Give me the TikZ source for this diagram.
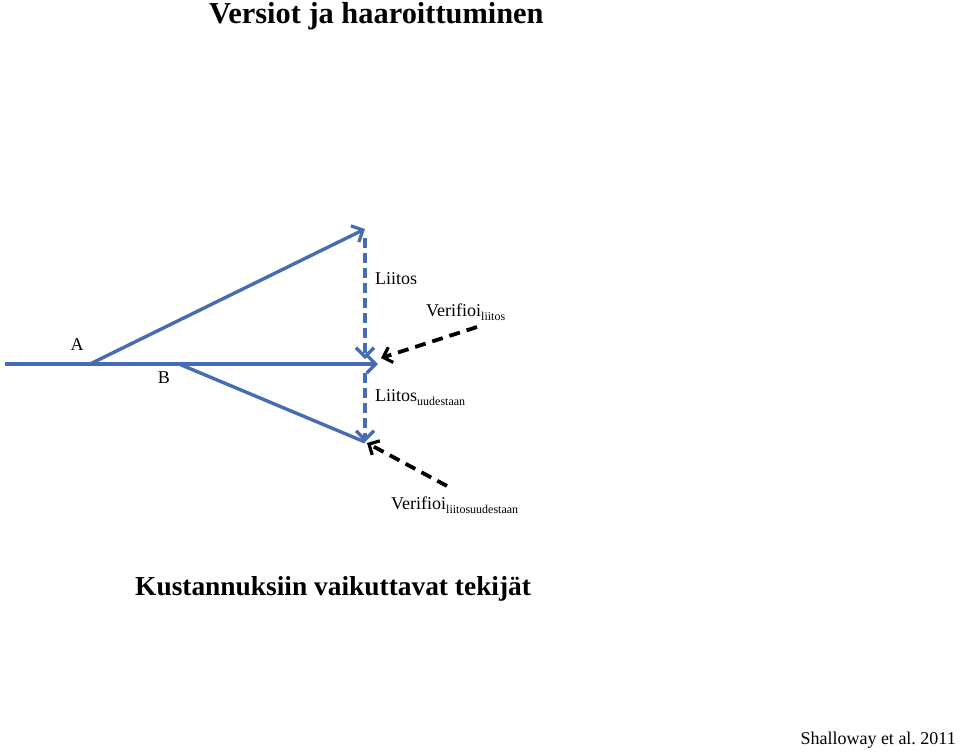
\documentclass[tikz,border=0pt]{standalone}
\usepackage{fontspec}
\setmainfont{Liberation Serif}
\usetikzlibrary{arrows.meta}
\definecolor{lineblue}{RGB}{70,108,180}
\tikzset{
  bluearrow/.style={draw=lineblue, line width=3.4pt, -{Straight Barb[length=9pt,width=18pt,line width=3.2pt]}},
  blueline/.style={draw=lineblue, line width=3.4pt},
  bluedash/.style={bluearrow, dash pattern=on 10pt off 5pt},
  blackdash/.style={draw=black, line width=3.8pt, dash pattern=on 11pt off 7pt, -{Straight Barb[length=8pt,width=16pt,line width=3.2pt]}},
  lbl/.style={inner sep=0pt, anchor=base west, font=\fontsize{18}{20}\selectfont},
  ttl/.style={inner sep=0pt, anchor=base west, font=\fontsize{30.4}{32}\selectfont\bfseries},
}
\newcommand{\subtxt}[1]{\raisebox{-4pt}{\fontsize{12}{14}\selectfont #1}}
\begin{document}
\begin{tikzpicture}[x=1pt,y=-1pt]
\useasboundingbox (0,0) rectangle (960,755);
% titles
\node[ttl] (title) at (209,23) {Versiot ja haaroittuminen};
\node[inner sep=0pt, anchor=base west, font=\fontsize{27.4}{30}\selectfont\bfseries] (costs) at (135,595) {Kustannuksiin vaikuttavat tekijät};
\node[inner sep=0pt, anchor=base east, font=\fontsize{18}{20}\selectfont] (ref) at (956,744) {Shalloway et al.\ 2011};
% coordinates
\coordinate (start) at (5,364);
\coordinate (pA) at (90,364);
\coordinate (pB) at (179,364);
\coordinate (mainend) at (378,364);
\coordinate (top) at (365,229);
\coordinate (bot) at (365,442);
\coordinate (d1s) at (365,238);
\coordinate (d1e) at (365,359);
\coordinate (d2s) at (365,373);
\coordinate (v1s) at (477,327);
\coordinate (v1e) at (381,358);
\coordinate (v2s) at (447,486);
\coordinate (v2e) at (367,443);
% blue lines
\draw[blueline] (start) -- (pA);
\draw[bluearrow] (pA) -- (mainend);
\draw[bluearrow] (pA) -- (top);
\draw[blueline] (pB) -- (bot);
\draw[bluedash] (d1s) -- (d1e);
\draw[bluedash] (d2s) -- (bot);
% black dashed
\draw[blackdash] (v1s) -- (v1e);
\draw[blackdash] (v2s) -- (v2e);
% labels
\node[lbl, anchor=center] (A) at (77,345) {A};
\node[lbl, anchor=center] (B) at (164,378) {B};
\node[lbl] (liitos) at (375,284) {Liitos};
\node[lbl] (ver1) at (426,316) {Verifioi\subtxt{liitos}};
\node[lbl] (liitos2) at (375,401) {Liitos\subtxt{uudestaan}};
\node[lbl] (ver2) at (391,509) {Verifioi\subtxt{liitosuudestaan}};
\end{tikzpicture}
\end{document}
